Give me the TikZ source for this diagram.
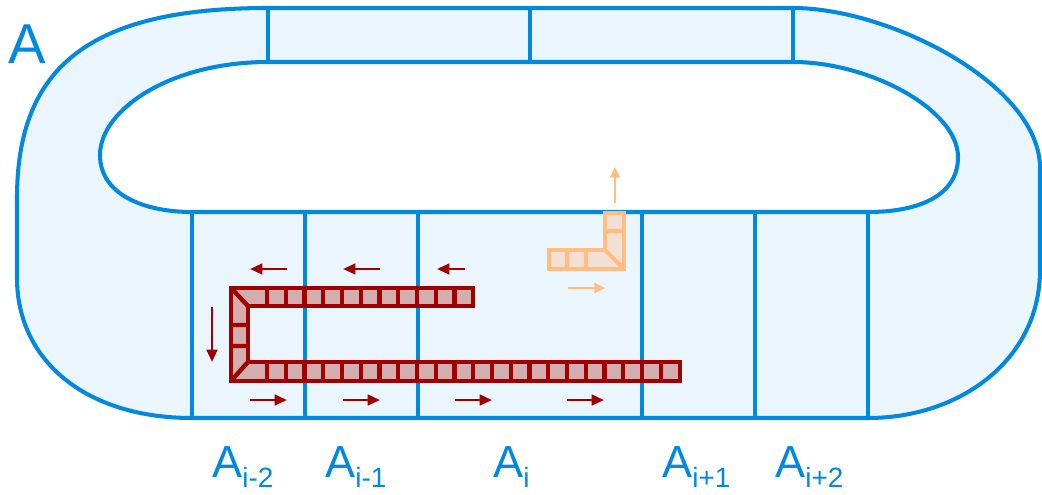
\documentclass[tikz,border=0pt]{standalone}
\usepackage{fontspec}
\setmainfont{Liberation Sans}
\usetikzlibrary{arrows.meta}

\definecolor{trackblue}{RGB}{0,137,222}
\definecolor{trackfill}{RGB}{234,245,253}
\definecolor{chainred}{RGB}{160,0,0}
\definecolor{chainfill}{RGB}{212,174,174}
\definecolor{moveorange}{RGB}{255,190,128}
\definecolor{movefill}{RGB}{243,224,212}

\newcommand{\seglabel}[1]{{\fontsize{25.6}{30}\selectfont A}\raisebox{-5.7pt}{\fontsize{15.9}{19}\selectfont #1}}

\begin{document}
\begin{tikzpicture}[x=0.02cm, y=-0.02cm]
    \tikzstyle{track} = [draw=trackblue, line width=2.3pt, line join=round]
    \tikzstyle{chain} = [draw=chainred, line width=2.5pt]
    \tikzstyle{block} = [draw=moveorange, line width=2.4pt]
    \tikzstyle{arrow} = [chainred, line width=1.4pt, -{Triangle[length=7pt,width=6pt]}]
    \tikzstyle{blockarrow} = [moveorange, line width=1.2pt, -{Triangle[length=6pt,width=5.5pt]}]
    \tikzstyle{label} = [anchor=base west, inner sep=0pt, text=trackblue]

    \useasboundingbox (0,0) rectangle (1042,494);

    % ring
    \draw [track, fill=trackfill, even odd rule]
        (268,8) -- (793,8) .. controls (890,8) and (1040,85) .. (1040,168) -- (1040,270)
        .. controls (1040,360) and (960,418) .. (868,418) -- (192,418)
        .. controls (85,418) and (17,360) .. (17,278) -- (17,198)
        .. controls (17,65) and (92,8) .. (268,8) -- cycle
        (268,62) -- (793,62) .. controls (870,62) and (958,110) .. (958,157)
        .. controls (958,195) and (920,212) .. (868,212) -- (192,212)
        .. controls (145,212) and (100,195) .. (100,155)
        .. controls (100,110) and (170,62) .. (268,62) -- cycle;
    \foreach \x in {268,530,793}
        \draw [track] (\x,8) -- (\x,62);
    \foreach \x in {192,305,418,642,755,868}
        \draw [track] (\x,212) -- (\x,418);

    % chain
    \draw [chain, fill=chainfill] (231,288) -- (473,288) -- (473,306) -- (248,306) -- (248,362)
        -- (680,362) -- (680,381) -- (231,381) -- cycle;
    \draw [chain] (231,288) -- (248,306) (231,381) -- (248,362)
        (231,325) -- (248,325) (231,346) -- (248,346);
    \foreach \k in {0,...,10}
        \draw [chain] (267+18.75*\k,288) -- ++(0,18);
    \foreach \k in {0,...,21}
        \draw [chain] (267+18.75*\k,362) -- ++(0,19);

    % moving block
    \draw [block, fill=movefill] (549,250) -- (605,250) -- (605,213) -- (624,213) -- (624,269)
        -- (549,269) -- cycle;
    \draw [block] (605,250) -- (624,269) (567,250) -- (567,269) (586,250) -- (586,269)
        (605,231) -- (624,231);

    % motion
    \draw [arrow] (287,269) -- (250,269);
    \draw [arrow] (380,269) -- (343,269);
    \draw [arrow] (465,269) -- (437,269);
    \draw [arrow] (212,307) -- (212,362);
    \draw [arrow] (250,400) -- (287,400);
    \draw [arrow] (343,400) -- (380,400);
    \draw [arrow] (455,400) -- (492,400);
    \draw [arrow] (567,400) -- (604,400);
    \draw [blockarrow] (615,203) -- (615,167);
    \draw [blockarrow] (568,288) -- (605,288);

    \node (ring) [label, font=\fontsize{32}{36}\selectfont] at (8,63) {A};
    \node (aim2) [label] at (212,477) {\seglabel{i-2}};
    \node (aim1) [label] at (325,477) {\seglabel{i-1}};
    \node (ai) [label] at (493,477) {\seglabel{i}};
    \node (aip1) [label] at (662,477) {\seglabel{i+1}};
    \node (aip2) [label] at (775,477) {\seglabel{i+2}};
\end{tikzpicture}
\end{document}
